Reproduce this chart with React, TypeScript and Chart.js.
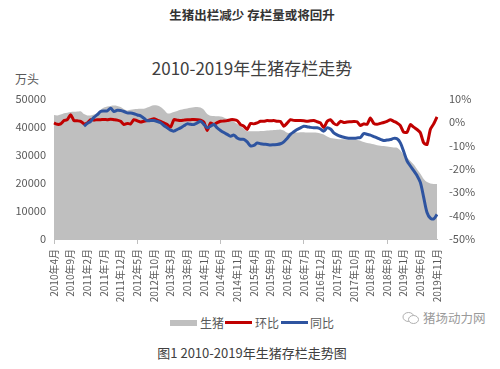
import React, { useEffect, useRef } from "react";
import { Chart, registerables } from "chart.js";

Chart.register(...registerables);

// Categories: monthly, 2010年4月 .. 2019年11月
const startYear = 2010;
const startMonth = 4;
const monthCount = 116;
const categories: string[] = [];
for (let k = 0; k < monthCount; k++) {
  const m = startMonth - 1 + k;
  categories.push(`${startYear + Math.floor(m / 12)}年${(m % 12) + 1}月`);
}

// 生猪存栏 (万头)
const hogInventory: number[] = [
  44200, 44000, 44300, 44800, 45000, 45200, 45300, 45400, 45500, 44500,
  44000, 44000, 44300, 45000, 46000, 46800, 47200, 47400, 47500, 47400,
  47000, 46200, 45800, 46000, 46200, 46300, 46400, 46400, 46800, 47300,
  47600, 47500, 47000, 46000, 44800, 44800, 45200, 45600, 46000, 46300,
  46500, 46700, 46900, 47000, 46800, 46000, 44500, 43900, 43800, 43700,
  43600, 43300, 42800, 42500, 41800, 41000, 40100, 39300, 38400, 38400,
  38400, 38400, 38500, 38500, 38600, 38700, 38800, 38900, 39000, 38600,
  37800, 37800, 37900, 37900, 38000, 38000, 37900, 37900, 37900, 37800,
  37600, 37200, 36500, 36000, 35800, 35600, 35500, 35500, 35400, 35400,
  35400, 35300, 35000, 34500, 34200, 34000, 33700, 33400, 33200, 33100,
  32900, 32800, 32600, 32500, 31500, 30000, 29000, 27800, 26500, 24800,
  23200, 21400, 20300, 19800, 19600, 19600,
];

// 环比 (%)
const momChange: number[] = [
  -0.4, -1.0, -0.8, 0.6, 1.0, 3.1, 0.6, 0.5, 0.3, -0.8,
  -0.4, 1.0, 0.8, 1.0, 1.0, 1.1, 1.0, 1.2, 1.0, 0.8,
  0.3, -1.1, -0.6, -0.8, 1.0, 0.5, 0.0, 0.3, 0.6, 1.0,
  1.4, 0.8, 0.3, -0.4, -1.1, -2.2, 1.0, 0.8, 0.6, 0.8,
  1.0, 1.0, 1.1, 1.0, 0.8, 0.0, -3.6, -0.4, -1.1, -0.3,
  0.3, 0.4, 0.6, 1.0, 1.0, 0.6, -1.1, -1.8, -3.2, -0.6,
  -0.8, -0.4, 0.3, 0.3, 0.6, 0.5, 0.6, 0.3, 0.2, -1.8,
  -0.5, 1.0, 0.7, 0.6, 0.6, 0.5, 0.3, 0.5, 0.6, 0.1,
  -0.4, -2.4, 0.2, 1.0, -0.6, -1.2, 0.3, -0.2, 0.0, 0.1,
  0.2, 0.1, -1.5, -0.8, -1.0, 1.7, -0.6, -1.0, -0.6, -0.2,
  0.3, 1.0, 0.3, -0.4, -1.5, -4.4, -4.4, -1.1, -2.2, -3.2,
  -4.6, -8.9, -9.6, -3.2, -0.8, 2.2,
];

// 同比 (%)
const yoyChange: (number | null)[] = [
  null, null, null, null, null, null, null, null, null, -1.8,
  -0.6, 0.3, 2.0, 3.1, 4.5, 4.7, 4.8, 5.9, 4.5, 5.0,
  4.9, 4.5, 3.9, 3.8, 3.5, 3.0, 2.6, 1.6, 0.6, 0.6,
  0.6, 0.2, -0.3, -1.5, -2.5, -3.5, -3.9, -3.2, -2.5, -1.6,
  -0.8, -1.0, -1.1, -0.4, 0.3, -1.0, -2.5, -1.8, -1.1, -2.5,
  -3.6, -4.5, -5.3, -6.1, -5.6, -6.8, -7.4, -7.4, -8.5, -10.2,
  -10.0, -9.0, -9.3, -9.5, -9.6, -9.8, -9.7, -9.6, -9.3, -8.5,
  -7.0, -5.3, -4.2, -3.2, -2.5, -1.8, -2.0, -2.3, -2.5, -2.5,
  -3.0, -3.9, -2.5, -3.0, -4.6, -5.5, -6.1, -6.5, -6.8, -6.9,
  -6.9, -6.8, -6.6, -5.0, -5.2, -5.6, -6.2, -6.8, -7.4, -7.9,
  -7.7, -7.5, -7.0, -7.2, -8.9, -12.6, -16.6, -18.8, -20.8, -22.9,
  -25.8, -32.2, -38.7, -41.1, -41.4, -39.5,
];

const leftTicks = [0, 10000, 20000, 30000, 40000, 50000];
const rightTicks = [-50, -40, -30, -20, -10, 0, 10];
const labelEvery = 5;

const FONT = "'Noto Sans CJK SC', 'Noto Sans', sans-serif";
const GRAY = "#bfbfbf";
const RED = "#c00000";
const BLUE = "#2e54a0";
const TEXT = "#595959";

function ChartCanvas() {
  const ref = useRef<HTMLCanvasElement | null>(null);
  useEffect(() => {
    if (!ref.current) return;
    const chart = new Chart(ref.current, {
      type: "line",
      data: {
        labels: categories,
        datasets: [
          {
            label: "生猪",
            data: hogInventory,
            yAxisID: "y",
            backgroundColor: GRAY,
            borderColor: GRAY,
            borderWidth: 0,
            fill: "origin",
            pointRadius: 0,
            tension: 0.3,
            order: 3,
          },
          {
            label: "环比",
            data: momChange,
            yAxisID: "y1",
            borderColor: RED,
            backgroundColor: RED,
            borderWidth: 3,
            fill: false,
            pointRadius: 0,
            tension: 0.2,
            order: 2,
          },
          {
            label: "同比",
            data: yoyChange,
            yAxisID: "y1",
            borderColor: BLUE,
            backgroundColor: BLUE,
            borderWidth: 3,
            fill: false,
            pointRadius: 0,
            tension: 0.3,
            order: 1,
          },
        ],
      },
      options: {
        animation: false,
        responsive: false,
        devicePixelRatio: 1,
        layout: { padding: { top: 17, left: 0, right: 0, bottom: 0 } },
        plugins: {
          legend: { display: false },
          title: { display: false },
          tooltip: { enabled: false },
        },
        scales: {
          x: {
            offset: false,
            grid: {
              display: true,
              drawOnChartArea: false,
              drawTicks: true,
              tickLength: 5,
              color: (ctx: any) =>
                ctx.index % labelEvery === 0 ? "#bfbfbf" : "rgba(0,0,0,0)",
            },
            border: { display: true, color: "#bfbfbf" },
            ticks: {
              autoSkip: false,
              maxRotation: 90,
              minRotation: 90,
              padding: 5,
              color: TEXT,
              font: { family: FONT, size: 10 },
              callback: (_v: any, i: number) =>
                i % labelEvery === 0 ? categories[i] : null,
            },
            afterFit: (s: any) => {
              s.height = 66;
            },
          },
          y: {
            position: "left",
            min: leftTicks[0],
            max: leftTicks[leftTicks.length - 1],
            grid: { display: false, drawTicks: false },
            border: { display: false },
            afterBuildTicks: (s: any) => {
              s.ticks = leftTicks.map((v) => ({ value: v }));
            },
            ticks: {
              padding: 8,
              color: TEXT,
              font: { family: FONT, size: 11 },
              callback: (v: any) => String(v),
            },
            afterFit: (s: any) => {
              s.width = 54;
            },
          },
          y1: {
            position: "right",
            min: rightTicks[0],
            max: rightTicks[rightTicks.length - 1],
            grid: { display: false, drawTicks: false },
            border: { display: false },
            afterBuildTicks: (s: any) => {
              s.ticks = rightTicks.map((v) => ({ value: v }));
            },
            ticks: {
              padding: 12,
              color: TEXT,
              font: { family: FONT, size: 11 },
              callback: (v: any) => `${v}%`,
            },
            afterFit: (s: any) => {
              s.width = 63;
            },
          },
        },
      },
    } as any);
    return () => chart.destroy();
  }, []);
  return (
    <canvas
      ref={ref}
      width={500}
      height={225}
      style={{ position: "absolute", left: 0, top: 80, width: 500, height: 225 }}
    />
  );
}

const txt = (extra: React.CSSProperties): React.CSSProperties => ({
  position: "absolute",
  fontFamily: FONT,
  whiteSpace: "nowrap",
  ...extra,
});

export default function App() {
  return (
    <div
      style={{
        position: "absolute",
        left: 0,
        top: 0,
        width: 500,
        height: 369,
        background: "#ffffff",
        overflow: "hidden",
      }}
    >
      <div
        style={txt({
          left: 2,
          top: 7,
          width: 500,
          textAlign: "center",
          fontSize: 12.5,
          lineHeight: "16px",
          fontWeight: "bold",
          color: "#333333",
        })}
      >
        生猪出栏减少 存栏量或将回升
      </div>
      <div
        style={txt({
          left: 2,
          top: 57,
          width: 500,
          textAlign: "center",
          fontSize: 17,
          lineHeight: "22px",
          color: "#404040",
        })}
      >
        2010-2019年生猪存栏走势
      </div>
      <div
        style={txt({ left: 15, top: 71, fontSize: 12, lineHeight: "16px", color: TEXT })}
      >
        万头
      </div>
      <ChartCanvas />
      {/* legend */}
      <div style={{ position: "absolute", left: 170, top: 320, width: 27, height: 6, background: GRAY }} />
      <div style={txt({ left: 200, top: 315, fontSize: 12, lineHeight: "16px", color: TEXT })}>生猪</div>
      <div style={{ position: "absolute", left: 225, top: 321, width: 27, height: 3, background: RED }} />
      <div style={txt({ left: 255, top: 315, fontSize: 12, lineHeight: "16px", color: TEXT })}>环比</div>
      <div style={{ position: "absolute", left: 281, top: 321, width: 27, height: 3, background: BLUE }} />
      <div style={txt({ left: 310, top: 315, fontSize: 12, lineHeight: "16px", color: TEXT })}>同比</div>
      {/* source mark */}
      <svg
        width={18}
        height={14}
        style={{ position: "absolute", left: 402, top: 311 }}
        viewBox="0 0 18 14"
      >
        <ellipse cx={6.5} cy={6} rx={5.5} ry={4.5} fill="none" stroke="#b0b0b0" strokeWidth={1} />
        <ellipse cx={11.5} cy={8.5} rx={5} ry={4} fill="#ffffff" stroke="#b0b0b0" strokeWidth={1} />
      </svg>
      <div style={txt({ left: 423, top: 310, fontSize: 12.5, lineHeight: "16px", color: "#9a9a9a" })}>
        猪场动力网
      </div>
      <div
        style={txt({
          left: 2,
          top: 344,
          width: 500,
          textAlign: "center",
          fontSize: 13,
          lineHeight: "17px",
          color: "#404040",
        })}
      >
        图1 2010-2019年生猪存栏走势图
      </div>
    </div>
  );
}
